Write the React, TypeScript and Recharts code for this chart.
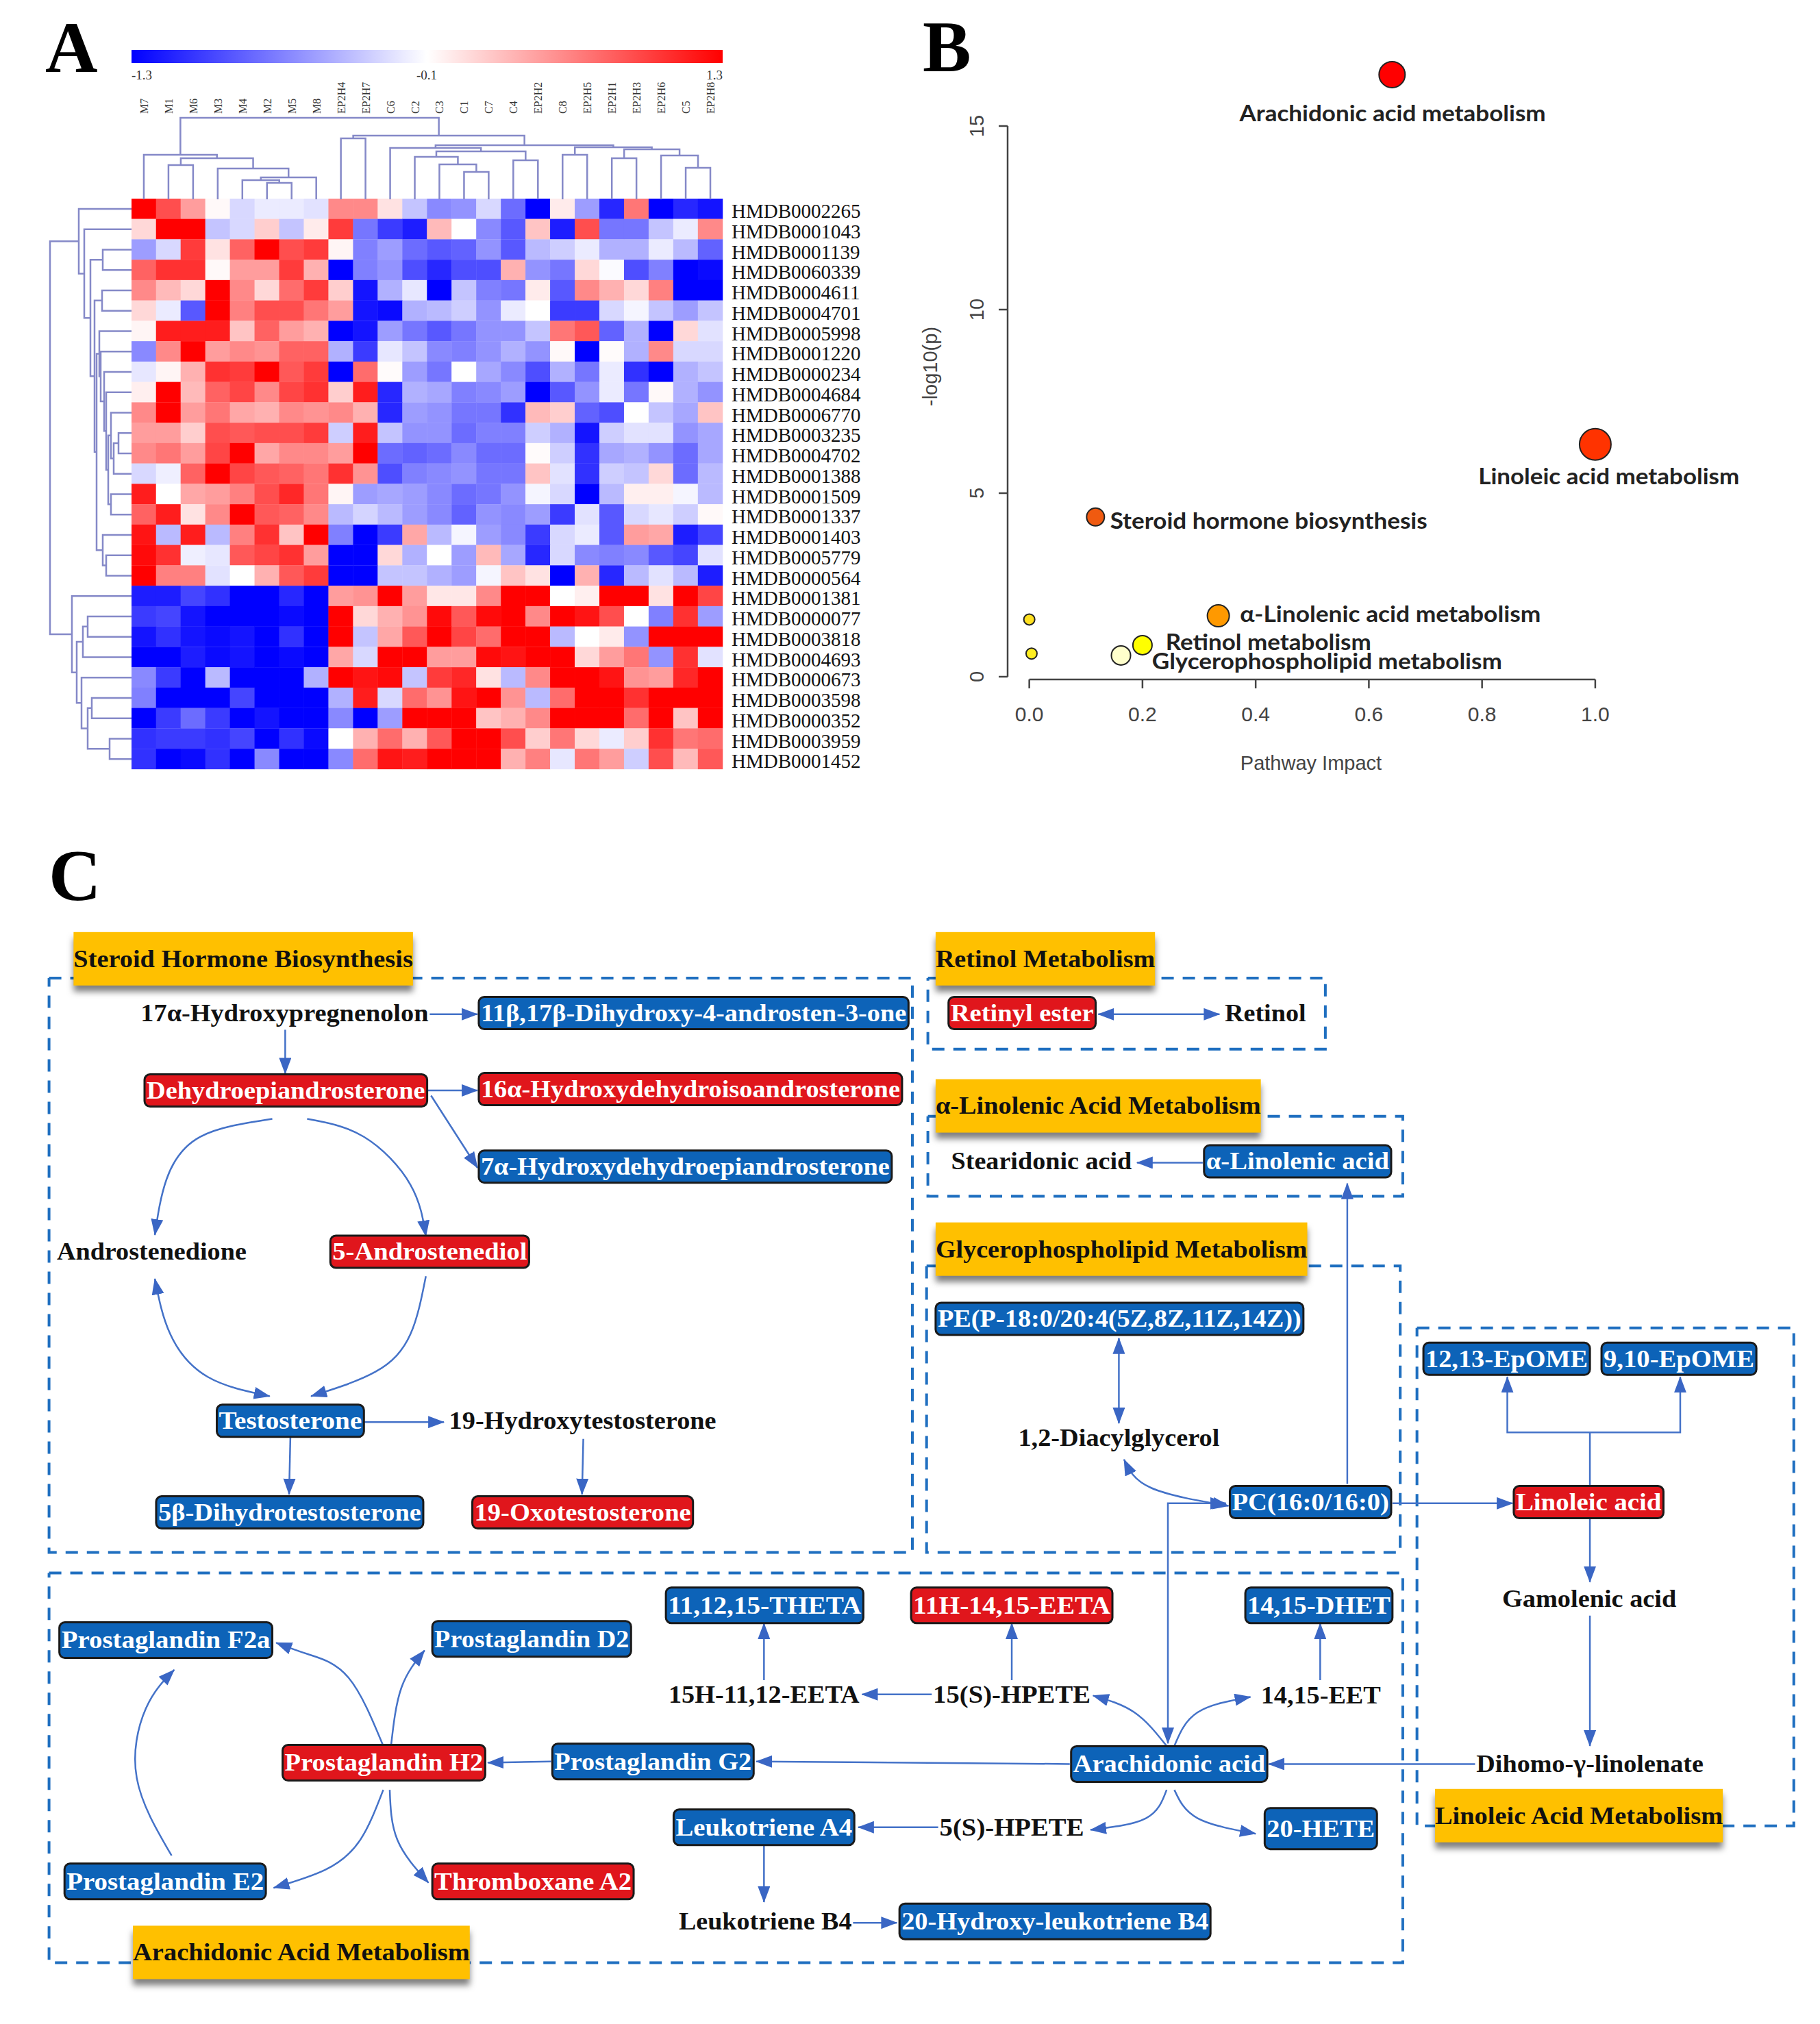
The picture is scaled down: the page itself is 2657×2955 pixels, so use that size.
import React from "react";
import { ScatterChart, Scatter, XAxis, YAxis, ReferenceLine } from "recharts";

// ---------- panel A ----------
const colLabels = ["M7", "M1", "M6", "M3", "M4", "M2", "M5", "M8", "EP2H4", "EP2H7", "C6", "C2", "C3", "C1", "C7", "C4", "EP2H2", "C8", "EP2H5", "EP2H1", "EP2H3", "EP2H6", "C5", "EP2H8"];
const rowLabels = ["HMDB0002265", "HMDB0001043", "HMDB0001139", "HMDB0060339", "HMDB0004611", "HMDB0004701", "HMDB0005998", "HMDB0001220", "HMDB0000234", "HMDB0004684", "HMDB0006770", "HMDB0003235", "HMDB0004702", "HMDB0001388", "HMDB0001509", "HMDB0001337", "HMDB0001403", "HMDB0005779", "HMDB0000564", "HMDB0001381", "HMDB0000077", "HMDB0003818", "HMDB0004693", "HMDB0000673", "HMDB0003598", "HMDB0000352", "HMDB0003959", "HMDB0001452"];
const heatValues = [
  [1.3, 0.9, 0.5, 0.03, -0.2, -0.1, -0.1, -0.15, 0.6, 0.6, 0.15, -0.3, -0.6, -0.55, -0.2, -0.75, -1.3, 0.1, -0.5, -1.1, 0.7, -1.3, -1.1, -1.2],
  [0.2, 1.3, 1.3, -0.3, -0.2, 0.25, -0.3, 0.1, 1.0, -0.7, -1.0, -1.15, 0.35, 0, -0.6, -0.85, 0.3, -1.15, 0.9, -0.7, -0.7, -0.3, -0.1, 0.6],
  [-0.5, -0.2, 1.0, 0.15, 0.8, 1.3, 0.9, 1.0, 0.05, -0.65, -0.5, -0.75, -0.85, -0.8, -0.55, -0.85, -0.35, -0.25, -0.1, -0.4, -0.4, -0.1, -0.35, -0.8],
  [0.8, 1.05, 1.05, 0.03, 0.5, 0.5, 1.0, 0.4, -1.3, -0.65, -0.55, -0.9, -1.1, -0.9, -0.9, 0.4, -0.55, -0.7, 0.2, -0.02, -0.9, -0.65, -1.3, -1.25],
  [0.6, 0.35, 0.2, 1.3, 0.6, 0.2, 0.75, 1.0, 0.25, -1.2, -0.4, -0.12, -1.3, -0.3, -0.65, -0.7, 0.1, -0.85, 0.6, 0.4, 0.2, 0.65, -1.3, -1.3],
  [0.2, -0.1, -0.85, 1.3, 0.65, 0.9, 0.9, 0.7, 0.5, -1.2, -1.25, -0.4, -0.35, -0.25, -0.55, -0.1, 0, -1.0, -1.0, -0.2, -0.05, -0.3, -0.5, -0.3],
  [0.05, 1.15, 1.15, 1.15, 0.3, 0.8, 0.5, 0.4, -1.3, -1.2, -0.5, -0.7, -0.85, -0.7, -0.55, -0.55, -0.3, 0.7, 0.85, -0.8, -0.4, -1.3, 0.2, -0.15],
  [-0.6, 0.6, 1.3, 0.5, 0.6, 0.55, 0.8, 0.8, -0.4, -1.0, -0.12, -0.3, -0.6, -0.65, -0.55, -0.4, -0.55, 0.03, -1.3, 0.02, -0.4, 0.6, -0.2, -0.2],
  [-0.12, 0.05, 0.4, 1.05, 1.0, 1.3, 0.85, 1.0, -1.3, 0.75, 0.02, -0.5, -0.7, 0, -0.45, -0.6, -0.9, -0.4, -0.7, -0.1, -1.05, -1.3, -0.4, -0.3],
  [0.08, 1.3, 0.35, 0.8, 0.95, 0.6, 0.95, 1.05, 0.25, 1.15, -1.1, -0.4, -0.45, -0.65, -0.6, -0.5, -1.3, -0.85, -0.55, -0.1, -0.7, 0.03, -0.4, -0.55],
  [0.6, 1.3, 0.5, 0.7, 0.45, 0.4, 0.6, 0.55, 0.6, 0.4, -1.1, -0.5, -0.55, -0.7, -0.7, -1.05, 0.35, 0.25, -0.8, -0.9, 0, -0.3, -0.45, 0.3],
  [0.5, 0.5, 0.25, 0.9, 0.85, 0.9, 0.9, 1.0, -0.25, 1.15, -0.3, -0.55, -0.55, -0.75, -0.65, -0.65, -0.25, -0.4, -1.2, -0.25, -0.15, -0.15, -0.55, -0.45],
  [0.6, 0.7, 0.5, 0.95, 1.3, 0.45, 0.6, 0.6, 0.5, 1.3, -0.75, -0.8, -0.75, -0.6, -0.75, -0.75, 0.02, -0.25, -1.05, -0.45, -0.4, -0.55, -0.75, -0.45],
  [-0.2, -0.08, 0.8, 1.3, 0.95, 0.85, 0.8, 0.7, 1.05, 0.55, -0.9, -0.65, -0.6, -0.55, -0.7, -0.7, 0.3, -0.15, -1.05, -0.25, -0.3, 0.2, -0.75, -0.35],
  [1.15, 0, 0.45, 0.5, 0.65, 0.9, 1.1, 0.7, 0.05, -0.5, -0.45, -0.5, -0.6, -0.75, -0.7, -0.55, -0.05, -0.2, -1.3, -0.35, 0.08, 0.08, -0.05, -0.35],
  [0.8, 1.15, 0.15, 0.6, 1.3, 0.85, 0.8, 0.6, -0.35, -0.22, -0.35, -0.5, -0.6, -0.8, -0.55, -0.6, -0.5, -1.0, -0.15, -0.85, -0.2, -0.12, -0.25, 0.03],
  [1.2, -0.35, 1.15, -0.35, 0.65, 1.05, 0.3, 1.3, -0.65, -1.3, -1.0, 0.45, -0.35, -0.05, -0.5, -0.6, -1.0, -0.2, -0.1, -0.85, 0.5, 0.45, -1.15, -0.95],
  [1.25, 1.05, -0.08, -0.12, 0.85, 0.95, 1.05, 0.5, -1.3, -1.3, 0.2, -0.4, 0, -0.5, 0.35, -0.45, -1.1, -0.2, -0.6, -0.65, -0.6, -0.85, -0.95, -0.15],
  [1.3, 0.65, 0.65, -0.15, 0, 0.4, 0.85, 1.0, -1.3, -1.3, -0.3, -0.3, -0.4, -0.5, -0.05, 0.3, 0.15, -1.3, 0.4, -1.1, -0.35, -0.15, -0.35, -1.15],
  [-1.15, -1.15, -0.95, -1.05, -1.3, -1.3, -1.1, -1.3, 0.5, 0.55, 1.3, 0.5, 0.12, 0.12, 0.6, 1.3, 1.3, 0, 0.08, 1.3, 1.3, 0.15, 1.3, 0.95],
  [-1.0, -0.95, -1.2, -1.3, -1.3, -1.3, -1.25, -1.3, 1.3, 0.2, 0.4, 0.55, 1.25, 0.85, 1.25, 1.3, 0.6, 1.3, 1.2, 0.9, 0, -0.65, 1.05, -0.5],
  [-1.2, -1.05, -1.2, -1.25, -1.2, -1.3, -1.05, -1.3, 1.3, -0.3, 0.45, 0.85, 1.3, 0.95, 0.75, 1.3, 1.3, -0.35, 0, 0.1, -0.55, 1.3, 1.3, 1.3],
  [-1.3, -1.3, -1.15, -1.25, -1.2, -1.3, -1.25, -1.3, 0.45, -0.2, 1.3, 1.3, 0.5, 0.5, 1.25, 1.2, 1.3, 1.3, 0.2, 0.5, 0.7, -0.55, 1.05, -0.15],
  [-0.6, -1.0, -1.3, -0.35, -1.3, -1.3, -1.3, -0.4, 1.3, 1.2, 1.25, -0.3, 1.0, 1.1, 0.15, -0.35, 0.6, 1.3, 1.3, 1.2, 0.55, 0.5, 1.1, 1.3],
  [-0.65, -1.3, -1.3, -1.3, -0.95, -1.3, -1.3, -1.3, -0.4, 1.15, -0.2, 0.75, 0.55, 1.2, 1.3, 0.55, -0.35, 0.75, 1.3, 1.3, 1.05, 1.3, 1.3, 1.3],
  [-1.3, -1.0, -0.75, -1.0, -1.3, -1.2, -1.3, -1.3, -0.6, -1.3, -0.5, 1.3, 1.3, 1.3, 0.3, 0.4, 0.6, 1.3, 1.3, 1.3, 0.75, 1.3, 0.3, 1.3],
  [-1.05, -1.0, -1.0, -1.05, -0.95, -1.3, -1.05, -1.25, 0, 0.4, 0.75, 0.4, 0.85, 1.3, 1.3, 0.9, 0.25, 0.7, 0.2, -0.1, 0.25, 1.05, 0.7, 0.75],
  [-1.05, -1.3, -1.25, -1.05, -1.3, -0.6, -1.3, -1.3, -0.6, 0.75, 1.2, 1.15, 1.3, 1.3, 1.3, 0.4, 0.65, -0.12, 0.7, 0.5, -0.25, 0.9, 0.35, 0.85],
];
// hclust style merges: negative = leaf (1 based), positive = earlier merge, third = height
const colMerges = [[-6, -7, 24], [-5, 1, 28], [2, -8, 32], [-4, 3, 45], [-2, -3, 50], [5, 4, 60], [-1, 6, 65], [-9, -10, 89], [-14, -15, 40], [-13, 9, 51], [-12, 10, 62], [-16, -17, 57], [11, 12, 70], [-11, 13, 75], [-18, -19, 65], [-20, -21, 60], [-23, -24, 46], [-22, 17, 64], [16, 18, 73], [15, 19, 76], [14, 20, 79], [8, 21, 93], [7, 22, 119]];
const rowMerges = [[-3, -4, 42], [-5, -6, 43], [-12, -13, 19], [3, -14, 26], [-11, 4, 30], [-15, -16, 30], [5, 6, 34], [-10, 7, 37], [-9, 8, 40], [-8, 9, 45], [-7, 10, 47], [-18, -19, 37], [-17, 12, 42], [11, 13, 51], [2, 14, 54], [1, 15, 60], [-2, 16, 69], [-1, 17, 77], [-21, -22, 64], [19, -23, 71], [-27, -28, 32], [-25, -26, 58], [22, 21, 64], [-24, 23, 73], [20, 24, 80], [-20, 25, 87], [18, 26, 119]];

// ---------- panel B ----------
const pathwayNames = ["Arachidonic acid metabolism", "Linoleic acid metabolism", "Steroid hormone biosynthesis", "α-Linolenic acid metabolism", "Retinol metabolism", "Glycerophospholipid metabolism"];
const pathwayImpact = [0.641, 1.0, 0.117, 0.334, 0.2, 0.162, 0.0, 0.004];
const pathwayLogP = [16.4, 6.33, 4.35, 1.66, 0.86, 0.58, 1.56, 0.63];
const bubbleRadius = [19, 23, 13, 16, 14, 14, 8, 8];
const bubbleFill = ["#ff0000", "#ff3300", "#f05a10", "#ff9900", "#ffff00", "#ffffcc", "#ffe020", "#ffee20"];
const labelX = [0.642, 1.024, 0.423, 0.638, 0.4225, 0.526];
const labelY = [15.35, 5.45, 4.25, 1.7, 0.95, 0.42];
const labelWidth = [447, 381, 463, 439, 300, 511];

// ---------- panel C, all in layout units (page px / 1.884) ----------
const sectionTitles = [
  ["Steroid Hormone Biosynthesis", 57, 320, 743],
  ["Retinol Metabolism", 725, 895, 743],
  ["α-Linolenic Acid Metabolism", 725, 977, 857],
  ["Glycerophospholipid Metabolism", 725, 1013, 968],
  ["Linoleic Acid Metabolism", 1112, 1335, 1407],
  ["Arachidonic Acid Metabolism", 103, 364, 1513],
];
const sectionBoxes = [
  [38, 707, 758, 1203],
  [719, 1027, 758, 813],
  [719, 1087, 865, 927],
  [718, 1085, 981, 1203],
  [38, 1087, 1219, 1521],
  [1098, 1390, 1029, 1415],
];
const nodes = [
  ["17α-Hydroxypregnenolon", "plain", 109, 332, 785],
  ["11β,17β-Dihydroxy-4-androsten-3-one", "blue", 371, 704, 785],
  ["Dehydroepiandrosterone", "red", 112, 331, 845],
  ["16α-Hydroxydehydroisoandrosterone", "red", 371, 699, 844],
  ["7α-Hydroxydehydroepiandrosterone", "blue", 371, 691, 904],
  ["Androstenedione", "plain", 44, 191, 970],
  ["5-Androstenediol", "red", 256, 410, 970],
  ["Testosterone", "blue", 168, 282, 1101],
  ["19-Hydroxytestosterone", "plain", 348, 555, 1101],
  ["5β-Dihydrotestosterone", "blue", 121, 328, 1172],
  ["19-Oxotestosterone", "red", 366, 537, 1172],
  ["Retinyl ester", "red", 735, 849, 785],
  ["Retinol", "plain", 949, 1012, 785],
  ["Stearidonic acid", "plain", 737, 877, 900],
  ["α-Linolenic acid", "blue", 933, 1078, 900],
  ["PE(P-18:0/20:4(5Z,8Z,11Z,14Z))", "blue", 725, 1010, 1022],
  ["1,2-Diacylglycerol", "plain", 789, 945, 1114],
  ["PC(16:0/16:0)", "blue", 953, 1078, 1164],
  ["12,13-EpOME", "blue", 1103, 1232, 1053],
  ["9,10-EpOME", "blue", 1241, 1361, 1053],
  ["Linoleic acid", "red", 1173, 1289, 1164],
  ["Gamolenic acid", "plain", 1164, 1299, 1239],
  ["Dihomo-γ-linolenate", "plain", 1144, 1320, 1367],
  ["11,12,15-THETA", "blue", 516, 669, 1244],
  ["11H-14,15-EETA", "red", 706, 862, 1244],
  ["14,15-DHET", "blue", 965, 1079, 1244],
  ["Prostaglandin F2a", "blue", 46, 211, 1271],
  ["Prostaglandin D2", "blue", 335, 489, 1270],
  ["15H-11,12-EETA", "plain", 518, 666, 1313],
  ["15(S)-HPETE", "plain", 723, 845, 1313],
  ["14,15-EET", "plain", 977, 1070, 1314],
  ["Prostaglandin H2", "red", 219, 376, 1366],
  ["Prostaglandin G2", "blue", 428, 584, 1365],
  ["Arachidonic acid", "blue", 830, 982, 1367],
  ["Leukotriene A4", "blue", 522, 662, 1416],
  ["5(S)-HPETE", "plain", 728, 840, 1416],
  ["20-HETE", "blue", 980, 1067, 1417],
  ["Prostaglandin E2", "blue", 50, 206, 1458],
  ["Thromboxane A2", "red", 335, 491, 1458],
  ["Leukotriene B4", "plain", 526, 660, 1489],
  ["20-Hydroxy-leukotriene B4", "blue", 697, 938, 1489],
];
const oneWay = [
  [[333, 786], [370, 786]],
  [[221, 798], [221, 832]],
  [[331, 845], [370, 845]],
  [[334, 849], [370, 905]],
  [[211, 867], [155, 881], [129, 914], [120, 957]],
  [[238, 867], [282, 881], [318, 918], [330, 958]],
  [[330, 989], [318, 1034], [291, 1063], [241, 1082]],
  [[282, 1102], [344, 1102]],
  [[225, 1114], [224, 1158]],
  [[452, 1115], [451, 1158]],
  [[932, 901], [881, 901]],
  [[1044, 1150], [1044, 917]],
  [[1079, 1165], [1172, 1165]],
  [[1232, 1110], [1168, 1110], [1168, 1067]],
  [[1232, 1152], [1232, 1110], [1302, 1110], [1302, 1067]],
  [[1232, 1176], [1232, 1226]],
  [[1232, 1252], [1232, 1353]],
  [[1143, 1367], [983, 1367]],
  [[829, 1367], [586, 1365]],
  [[427, 1365], [378, 1366]],
  [[722, 1313], [668, 1313]],
  [[592, 1302], [592, 1258]],
  [[784, 1302], [784, 1258]],
  [[1023, 1302], [1023, 1258]],
  [[904, 1353], [879, 1327], [847, 1314]],
  [[910, 1353], [928, 1327], [969, 1315]],
  [[904, 1387], [888, 1409], [845, 1418]],
  [[910, 1387], [928, 1409], [973, 1421]],
  [[727, 1416], [665, 1416]],
  [[592, 1429], [592, 1474]],
  [[661, 1490], [695, 1490]],
  [[297, 1353], [270, 1300], [239, 1282], [214, 1273]],
  [[303, 1353], [311, 1308], [329, 1279]],
  [[297, 1387], [279, 1426], [252, 1449], [212, 1463]],
  [[302, 1387], [308, 1426], [332, 1459]],
  [[133, 1438], [106, 1378], [113, 1324], [135, 1294]],
];
const twoWay = [
  [[120, 991], [132, 1034], [161, 1067], [209, 1082]],
  [[851, 786], [945, 786]],
  [[867, 1037], [867, 1103]],
  [[871, 1131], [892, 1153], [952, 1167]],
  [[905, 1351], [905, 1165], [950, 1165]],
];

const K = 1.884;
const SERIF = "'Liberation Serif', serif";
const SANS = "'Liberation Sans', sans-serif";
const DENDRO = "#8589c8";
const ARROW = "#4472c8";
const noShape = () => null;

function heatColor(v: number) {
  const t = Math.min(Math.abs(v) / 1.3, 1);
  const c = Math.round(255 * (1 - t));
  return v >= 0 ? `rgb(255,${c},${c})` : `rgb(${c},${c},255)`;
}

// turns merges into the 4 point brackets, pos = leaf axis, h = height axis
function brackets(merges: number[][]) {
  const centre: number[] = [];
  const top: number[] = [];
  const out: Array<Array<{ pos: number; h: number }>> = [];
  merges.forEach(([a, b, h], i) => {
    const pa = a < 0 ? -a - 0.5 : centre[a - 1];
    const pb = b < 0 ? -b - 0.5 : centre[b - 1];
    const ha = a < 0 ? 0 : top[a - 1];
    const hb = b < 0 ? 0 : top[b - 1];
    out.push([{ pos: pa, h: ha }, { pos: pa, h }, { pos: pb, h }, { pos: pb, h: hb }]);
    centre[i] = (pa + pb) / 2;
    top[i] = h;
  });
  return out;
}

const heatData = heatValues.flatMap((row, r) => row.map((v, c) => ({ x: c + 0.5, y: r + 0.5, v })));
const colTree = brackets(colMerges);
const rowTree = brackets(rowMerges);
const colTicks = colLabels.map((_, i) => i + 0.5);
const rowTicks = rowLabels.map((_, i) => i + 0.5);

const bubbleData = pathwayImpact.map((x, i) => ({ x, y: pathwayLogP[i], r: bubbleRadius[i], fill: bubbleFill[i] }));
const labelData = pathwayNames.map((name, i) => ({ x: labelX[i], y: labelY[i], name, w: labelWidth[i] }));

const nodeData = nodes.map(([label, kind, l, r, y]: any) => ({ x: (l + r) / 2, y, w: r - l, label, kind }));
const titleData = sectionTitles.map(([label, l, r, y]: any) => ({ x: (l + r) / 2, y, w: r - l, label }));
const toPts = (pts: number[][]) => pts.map(([x, y]) => ({ x, y }));
const isCurve = (pts: number[][]) => pts.length > 2 && pts[1][0] !== pts[0][0] && pts[1][1] !== pts[0][1];

function HeatCell(p: any) {
  return <rect x={p.cx - 18.2} y={p.cy - 15} width={36.4} height={30} fill={heatColor(p.payload.v)} />;
}

function ColTick(p: any) {
  return (
    <text x={p.x + 6} y={p.y} transform={`rotate(-90 ${p.x + 6} ${p.y})`} fontFamily={SERIF} fontSize={16} fill="#333">
      {colLabels[p.index]}
    </text>
  );
}

function RowTick(p: any) {
  return (
    <text x={p.x} y={p.y} dy="0.46em" fontFamily={SERIF} fontSize={29} fill="#111">
      {rowLabels[p.index]}
    </text>
  );
}

function Bubble(p: any) {
  return <circle cx={p.cx} cy={p.cy} r={p.payload.r} fill={p.payload.fill} stroke="#222" strokeWidth={2} />;
}

function BubbleLabel(p: any) {
  return (
    <text x={p.cx} y={p.cy} dy="0.35em" textAnchor="middle" fontFamily="Lato, sans-serif" fontWeight={700} fontSize={33} fill="#222"
      textLength={p.payload.w} lengthAdjust="spacingAndGlyphs">
      {p.payload.name}
    </text>
  );
}

function RotTick(p: any) {
  return (
    <text x={p.x} y={p.y} transform={`rotate(-90 ${p.x} ${p.y})`} textAnchor="middle" fontFamily={SANS} fontSize={29} fill="#444">
      {p.payload.value}
    </text>
  );
}

function Node(p: any) {
  const { w, label, kind, y } = p.payload;
  const pw = w * K;
  const ph = label === "20-HETE" ? 60 : y > 1220 ? 52 : 47;
  return (
    <g>
      {kind !== "plain" && (
        <rect x={p.cx - pw / 2} y={p.cy - ph / 2} width={pw} height={ph} rx={8} fill={kind === "blue" ? "#0d63b8" : "#e0161c"} stroke="#1a1a1a" strokeWidth={3} />
      )}
      <text x={p.cx} y={p.cy} dy="0.33em" textAnchor="middle" fontFamily={SERIF} fontWeight={700} fontSize={36}
        fill={kind === "plain" ? "#111" : "#fff"} textLength={kind === "plain" ? pw : pw - 6} lengthAdjust="spacingAndGlyphs">
        {label}
      </text>
    </g>
  );
}

function Title(p: any) {
  const { w, label } = p.payload;
  const pw = w * K;
  return (
    <g>
      <rect x={p.cx - pw / 2} y={p.cy - 39} width={pw} height={78} fill="#ffc000" style={{ filter: "drop-shadow(0px 9px 5px rgba(0,0,0,0.5))" }} />
      <text x={p.cx} y={p.cy} dy="0.33em" textAnchor="middle" fontFamily={SERIF} fontWeight={700} fontSize={36} fill="#111"
        textLength={pw} lengthAdjust="spacingAndGlyphs">
        {label}
      </text>
    </g>
  );
}

function Letter({ x, y, children }: any) {
  return (
    <div style={{ position: "absolute", left: x, top: y, fontFamily: SERIF, fontWeight: 700, fontSize: 106, lineHeight: "106px", color: "#000" }}>
      {children}
    </div>
  );
}

const zero = { top: 0, right: 0, bottom: 0, left: 0 };

export default function App() {
  return (
    <div style={{ position: "absolute", left: 0, top: 0, width: 2657, height: 2955, background: "#fff", overflow: "hidden" }}>
      <svg width={0} height={0} style={{ position: "absolute" }}>
        <defs>
          <marker id="arrow" markerUnits="userSpaceOnUse" markerWidth={24} markerHeight={18} viewBox="0 0 24 18" refX={23} refY={9} orient="auto-start-reverse">
            <path d="M0 0 L24 9 L0 18 Z" fill="#3a66c4" />
          </marker>
        </defs>
      </svg>

      <Letter x={66} y={17}>A</Letter>
      <Letter x={1347} y={16}>B</Letter>
      <Letter x={71} y={1226}>C</Letter>

      {/* colour key */}
      <div style={{ position: "absolute", left: 192, top: 73, width: 863, height: 19, background: "linear-gradient(to right, #0000ff 0%, #ffffff 50%, #ff0000 100%)" }} />
      {[["-1.3", 192, "left"], ["-0.1", 608, "left"], ["1.3", 1030, "right"]].map(([t, x, a]: any) => (
        <div key={t} style={{ position: "absolute", left: x, top: 99, width: 25, textAlign: a, fontFamily: SERIF, fontSize: 19, color: "#333", whiteSpace: "nowrap" }}>{t}</div>
      ))}

      {/* column dendrogram + sample labels */}
      <div style={{ position: "absolute", left: 192, top: 100, zIndex: 5 }}>
        <ScatterChart width={863} height={191} margin={zero}>
          <XAxis type="number" dataKey="pos" orientation="top" domain={[0, 24]} ticks={colTicks} interval={0} height={71}
            axisLine={false} tickLine={false} tickSize={0} tickMargin={5} tick={<ColTick />} />
          <YAxis type="number" dataKey="h" domain={[0, 120]} hide />
          {colTree.map((d, i) => (
            <Scatter key={i} data={d} isAnimationActive={false} shape={noShape} line={{ stroke: DENDRO, strokeWidth: 2.5 }} />
          ))}
        </ScatterChart>
      </div>

      {/* row dendrogram */}
      <div style={{ position: "absolute", left: 69, top: 290 }}>
        <ScatterChart width={123} height={833} margin={{ top: 0, right: 0, bottom: 0, left: 4 }}>
          <XAxis type="number" dataKey="h" domain={[0, 119]} reversed hide />
          <YAxis type="number" dataKey="pos" domain={[0, 28]} reversed hide />
          {rowTree.map((d, i) => (
            <Scatter key={i} data={d} isAnimationActive={false} shape={noShape} line={{ stroke: DENDRO, strokeWidth: 2.5 }} />
          ))}
        </ScatterChart>
      </div>

      {/* heatmap */}
      <div style={{ position: "absolute", left: 192, top: 290 }}>
        <ScatterChart width={1093} height={853} margin={{ top: 0, right: 0, bottom: 20, left: 0 }}>
          <XAxis type="number" dataKey="x" domain={[0, 24]} hide />
          <YAxis type="number" dataKey="y" domain={[0, 28]} reversed orientation="right" width={230} ticks={rowTicks} interval={0}
            axisLine={false} tickLine={false} tickSize={0} tickMargin={13} tick={<RowTick />} />
          <Scatter data={heatData} isAnimationActive={false} shape={<HeatCell />} />
        </ScatterChart>
      </div>

      {/* pathway impact bubbles */}
      <div style={{ position: "absolute", left: 1250, top: 40 }}>
        <ScatterChart width={1300} height={1130} margin={{ top: 10, right: 57, bottom: 78, left: 100 }}>
          <XAxis type="number" dataKey="x" domain={[-0.0383, 1.1986]} ticks={[0, 0.2, 0.4, 0.6, 0.8, 1]} interval={0} height={100}
            axisLine={false} tickSize={13} tickMargin={27} tickLine={{ stroke: "#444", strokeWidth: 2.5 }}
            tickFormatter={(v: number) => v.toFixed(1)} tick={{ fontFamily: SANS, fontSize: 30, fill: "#444" }}
            label={{ value: "Pathway Impact", position: "bottom", offset: 0, dx: -68, dy: 11, fontFamily: SANS, fontSize: 29, fill: "#444" }} />
          <YAxis type="number" dataKey="y" domain={[-0.0746, 17.5]} ticks={[0, 5, 10, 15]} interval={0} width={121}
            axisLine={false} tickSize={13} tickMargin={22} tickLine={{ stroke: "#444", strokeWidth: 2.5 }} tick={<RotTick />}
            label={{ value: "-log10(p)", angle: -90, position: "insideLeft", dx: 3, dy: 72, fontFamily: SANS, fontSize: 29, fill: "#444" }} />
          <ReferenceLine segment={[{ x: 0, y: -0.0746 }, { x: 1, y: -0.0746 }]} stroke="#444" strokeWidth={2.5} ifOverflow="visible" />
          <ReferenceLine segment={[{ x: -0.0383, y: 0 }, { x: -0.0383, y: 15 }]} stroke="#444" strokeWidth={2.5} ifOverflow="visible" />
          <Scatter data={bubbleData} isAnimationActive={false} shape={<Bubble />} />
          <Scatter data={labelData} isAnimationActive={false} shape={<BubbleLabel />} />
        </ScatterChart>
      </div>

      {/* pathway map */}
      <div style={{ position: "absolute", left: 0, top: 1190 }}>
        <ScatterChart width={2657} height={1765} margin={zero}>
          <XAxis type="number" dataKey="x" domain={[0, 2657 / K]} hide />
          <YAxis type="number" dataKey="y" domain={[1190 / K, 2955 / K]} reversed hide />
          {sectionBoxes.map(([l, r, t, b], i) => (
            <Scatter key={`box${i}`} data={toPts([[l, t], [r, t], [r, b], [l, b], [l, t]])} isAnimationActive={false} shape={noShape}
              line={{ stroke: "#1f6fc0", strokeWidth: 4, strokeDasharray: "18 13" }} />
          ))}
          <Scatter data={titleData} isAnimationActive={false} shape={<Title />} />
          {oneWay.map((pts, i) => (
            <Scatter key={`e${i}`} data={toPts(pts)} isAnimationActive={false} shape={noShape} lineJointType={isCurve(pts) ? "natural" : "linear"}
              line={{ stroke: ARROW, strokeWidth: 2.5, markerEnd: "url(#arrow)" }} />
          ))}
          {twoWay.map((pts, i) => (
            <Scatter key={`t${i}`} data={toPts(pts)} isAnimationActive={false} shape={noShape} lineJointType={isCurve(pts) ? "natural" : "linear"}
              line={{ stroke: ARROW, strokeWidth: 2.5, markerEnd: "url(#arrow)", markerStart: "url(#arrow)" }} />
          ))}
          <Scatter data={nodeData} isAnimationActive={false} shape={<Node />} />
        </ScatterChart>
      </div>
    </div>
  );
}
